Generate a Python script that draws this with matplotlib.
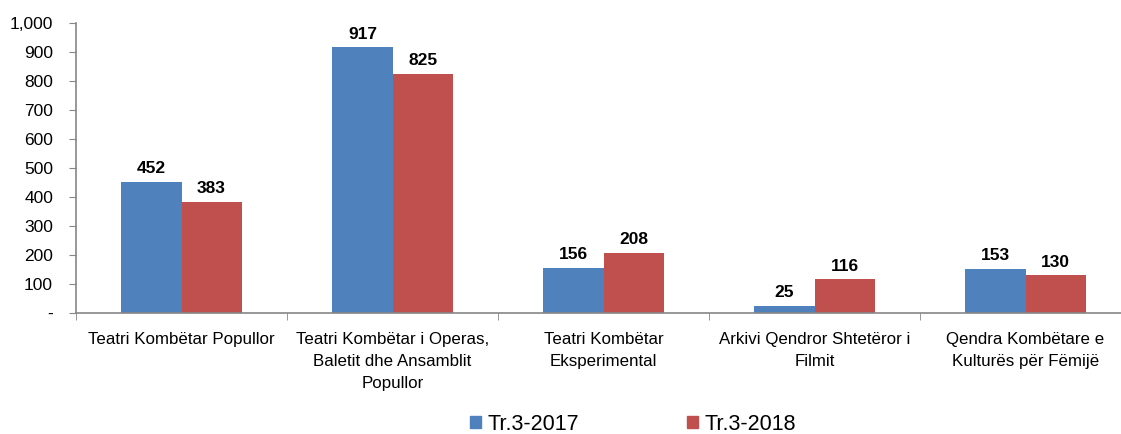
import matplotlib.pyplot as plt
from matplotlib.ticker import FuncFormatter
from matplotlib.patches import Patch
import numpy as np

plt.rcParams['font.family'] = ['Liberation Sans', 'DejaVu Sans']

categories = [
    "Teatri Kombëtar Popullor",
    "Teatri Kombëtar i Operas,\nBaletit dhe Ansamblit\nPopullor",
    "Teatri Kombëtar\nEksperimental",
    "Arkivi Qendror Shtetëror i\nFilmit",
    "Qendra Kombëtare e\nKulturës për Fëmijë",
]
series_names = ["Tr.3-2017", "Tr.3-2018"]
values_2017 = [452, 917, 156, 25, 153]
values_2018 = [383, 825, 208, 116, 130]

blue = "#4F81BD"
red = "#C0504D"
grey = "#868686"

W, H = 1121, 434
fig = plt.figure(figsize=(W / 100, H / 100), dpi=100)
ax = fig.add_axes([76 / W, (H - 313) / H, 1055 / W, 290 / H])

x = np.arange(len(categories))
bw = 0.285
b1 = ax.bar(x - bw / 2, values_2017, bw, color=blue, label=series_names[0])
b2 = ax.bar(x + bw / 2, values_2018, bw, color=red, label=series_names[1])

# value labels above bars
for bars in (b1, b2):
    for rect in bars:
        h = rect.get_height()
        ax.annotate(f"{h:,.0f}", (rect.get_x() + rect.get_width() / 2, h),
                    xytext=(0, 4), textcoords="offset points",
                    ha="center", va="bottom", fontsize=12.5, fontweight="bold")

ax.set_xlim(-0.5, len(categories) - 0.5)
ax.set_ylim(0, 1000)
ax.set_yticks(range(0, 1001, 100))
ax.yaxis.set_major_formatter(FuncFormatter(lambda v, p: "-" if v == 0 else f"{v:,.0f}"))

ax.set_xticks(x)
ax.set_xticklabels(categories, fontsize=12.2, linespacing=1.55)
ax.set_xticks(np.arange(-0.5, len(categories)), minor=True)
ax.tick_params(axis="x", which="major", length=0, pad=14)
ax.tick_params(axis="x", which="minor", length=5, color=grey, direction="out")
ax.tick_params(axis="y", length=5, color=grey, labelsize=12.5, pad=11.5)

for side in ("top", "right"):
    ax.spines[side].set_visible(False)
for side in ("left", "bottom"):
    ax.spines[side].set_color(grey)
    ax.spines[side].set_linewidth(1.2)

handles = [Patch(color=blue), Patch(color=red)]
fig.legend(handles, series_names, loc="center", bbox_to_anchor=(633 / W, 1 - 424 / H),
           ncol=2, frameon=False, fontsize=15.5, handlelength=0.5, handleheight=0.5,
           handletextpad=0.3, columnspacing=5.0)

fig.savefig("out.png", dpi=100)
